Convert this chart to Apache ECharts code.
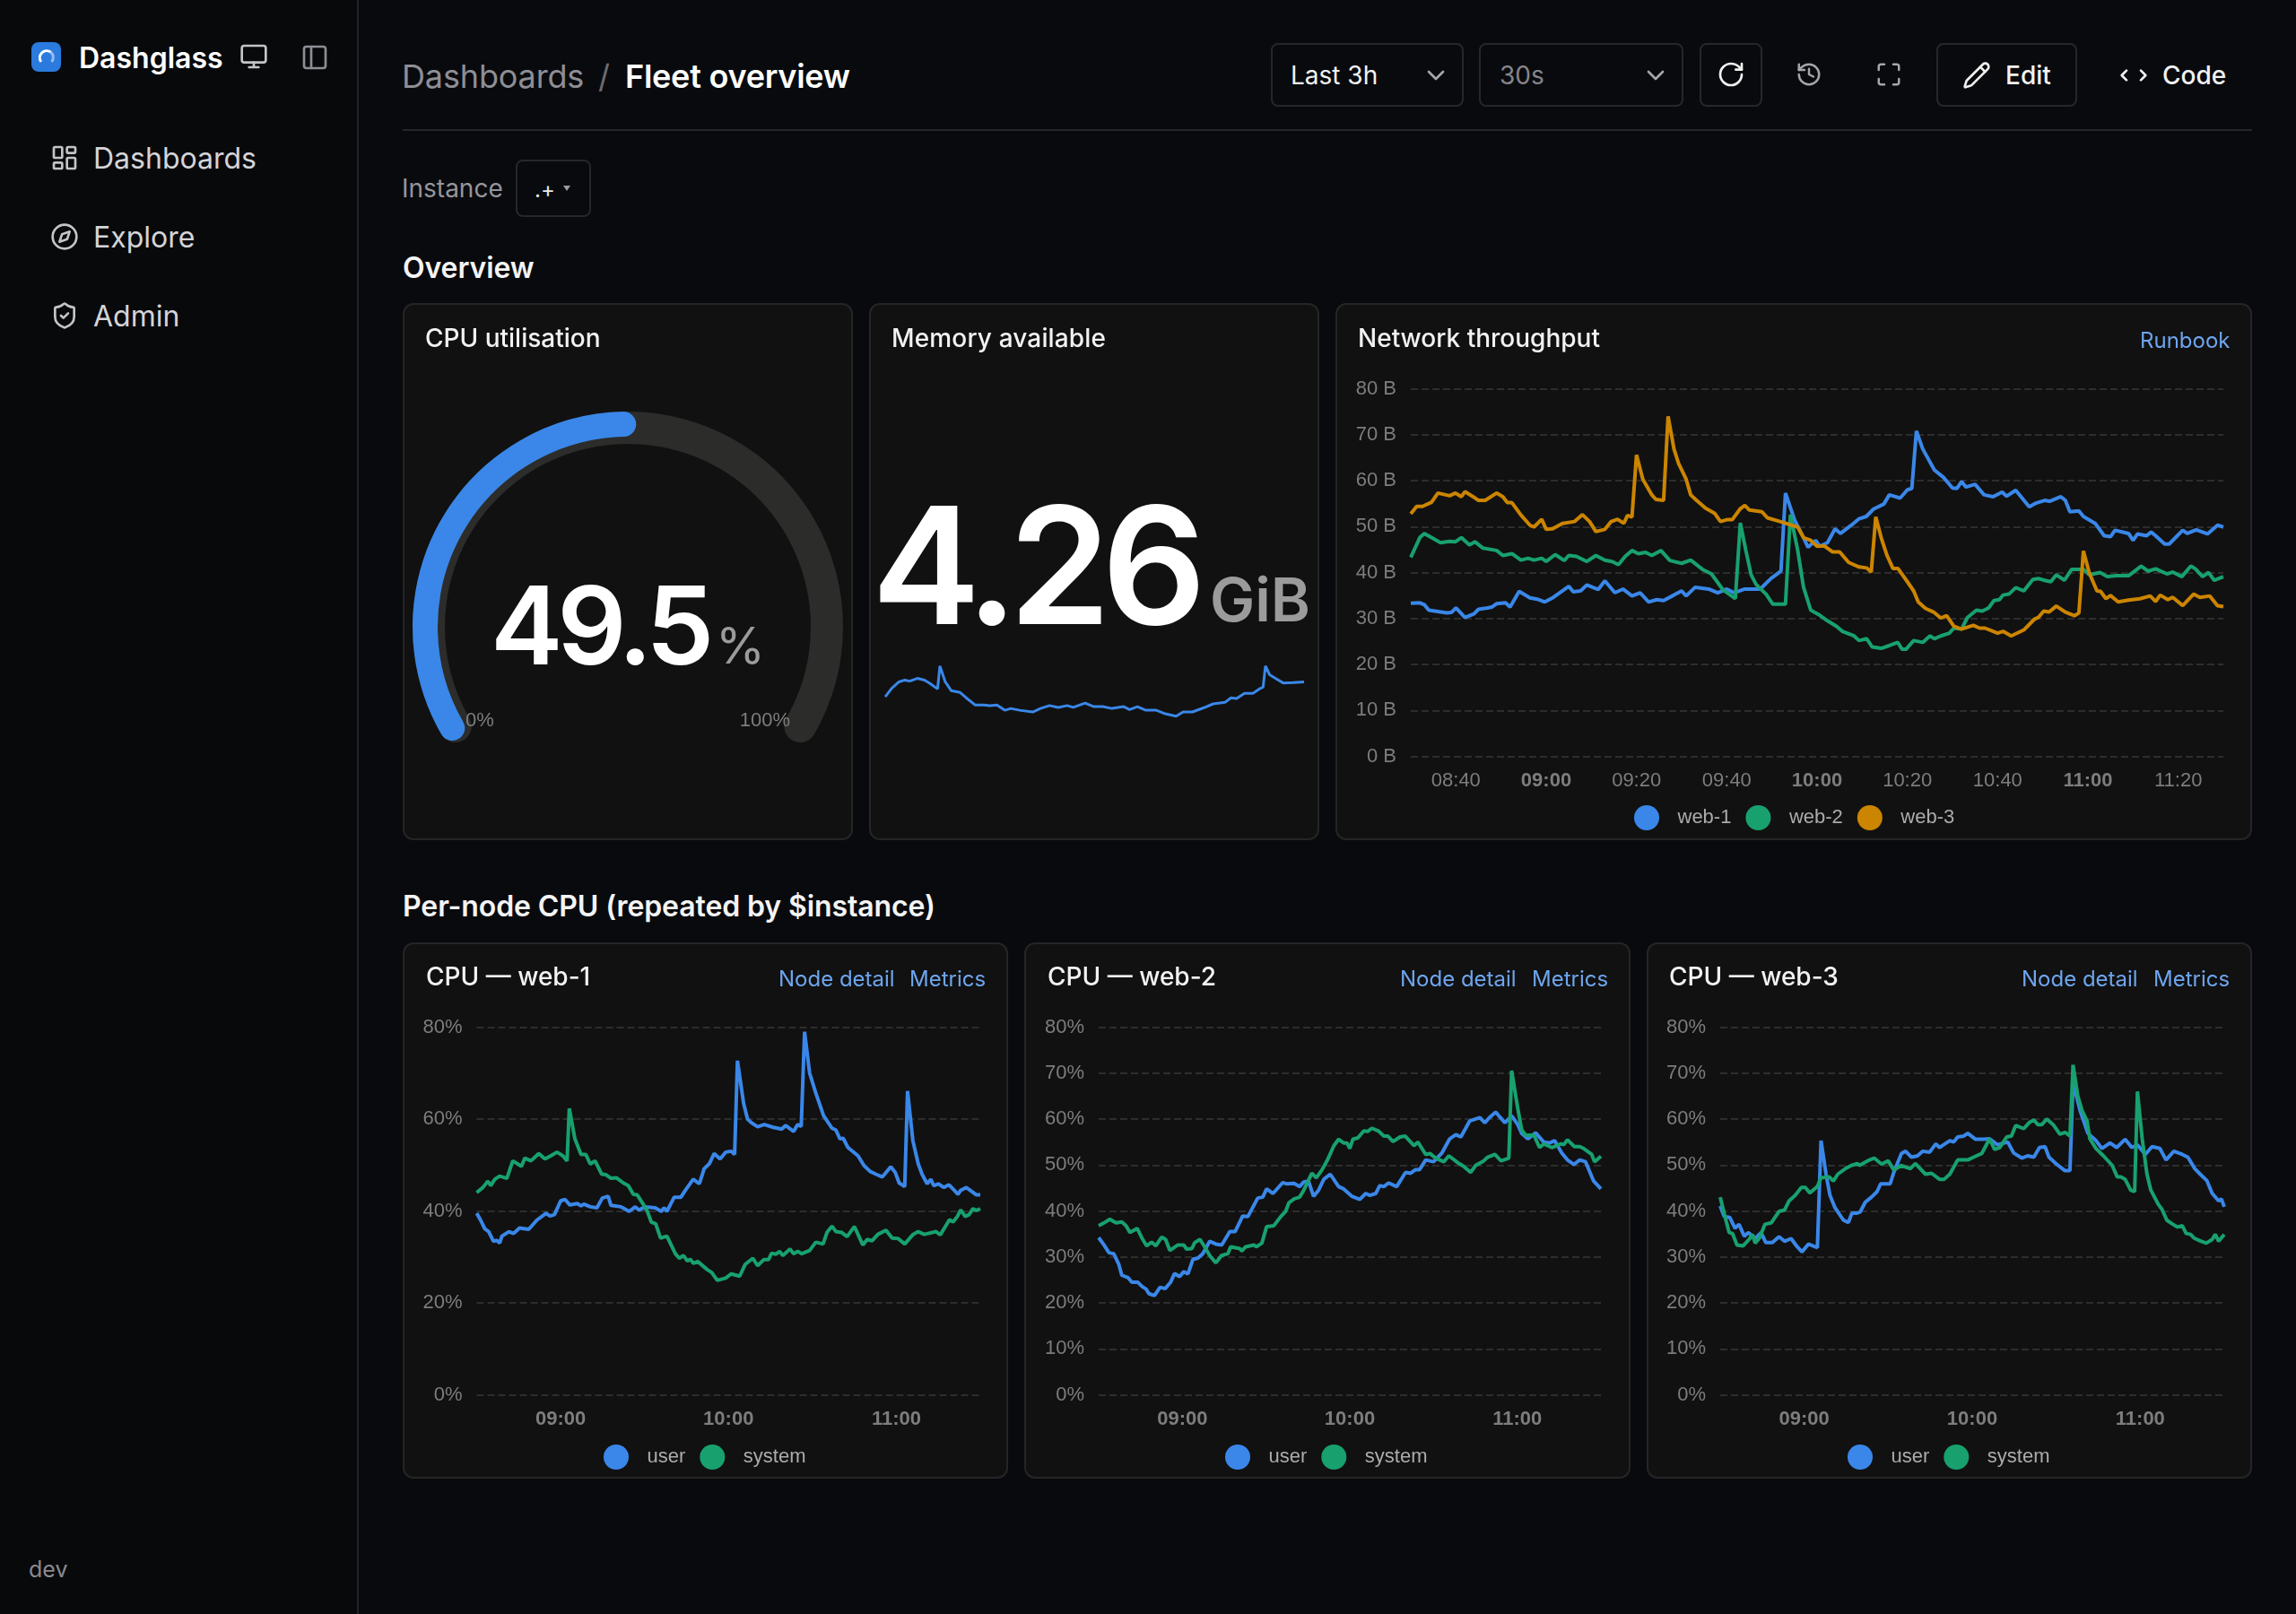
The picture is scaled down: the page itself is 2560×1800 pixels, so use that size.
<!DOCTYPE html>
<html lang="en">
<head>
<meta charset="utf-8">
<title>Dashglass - Fleet overview</title>
<script src="https://cdn.jsdelivr.net/npm/echarts@6/dist/echarts.min.js"></script>
<style>
    html, body { margin: 0; padding: 0; width: 2560px; height: 1800px; background: #090a0d; overflow: hidden; font-family: Inter, sans-serif; color: #fff; }
    .abs { position: absolute; white-space: nowrap; }
    .mid { transform: translateY(-50%); }
    .sidebar { position: absolute; left: 0; top: 0; width: 398px; height: 1800px; background: #08090b; border-right: 2px solid #222327; }
    .panel { position: absolute; box-sizing: border-box; background: #111111; border: 2px solid #252525; border-radius: 12px; }
    .box { position: absolute; box-sizing: border-box; border: 2px solid #26272b; border-radius: 8px; }
    .chart { position: absolute; }
    .ptitle { font-size: 28px; font-weight: 500; color: #f2f2f2; }
    .link { font-size: 24px; color: #6ea5ee; }
    .nav { font-size: 32px; color: #d4d4d8; }
    .h2 { font-size: 32px; font-weight: 600; color: #f4f4f5; letter-spacing: -0.1px; }
    svg.ic { position: absolute; fill: none; stroke: currentColor; stroke-width: 2; stroke-linecap: round; stroke-linejoin: round; }
</style>
</head>
<body>

<div class="sidebar"></div>
<svg class="abs" style="left:35px;top:47px" width="33" height="33" viewBox="0 0 33 33">
    <rect width="33" height="33" rx="8" fill="#2b7ade"/>
    <path d="M10.8 22 A7.8 7.8 0 0 1 21.5 11" fill="none" stroke="#fff" stroke-width="3"/>
    <path d="M21.5 11 A7.8 7.8 0 0 1 22.5 22" fill="none" stroke="#fff" stroke-opacity="0.5" stroke-width="3"/>
</svg>
<div class="abs mid" style="left:88px;top:64px;font-size:32px;font-weight:600">Dashglass</div>
<svg class="ic" viewBox="0 0 24 24" style="left:267px;top:47px;width:32px;height:32px;color:#c4c4c8"><rect x="2" y="3" width="20" height="14" rx="2"/><path d="M8 21h8M12 17v4"/></svg>
<svg class="ic" viewBox="0 0 24 24" style="left:335px;top:48px;width:32px;height:32px;color:#8d8d93"><rect x="3" y="3" width="18" height="18" rx="2"/><path d="M9 3v18"/></svg>

<svg class="ic" viewBox="0 0 24 24" style="left:56px;top:160px;width:32px;height:32px;color:#c4c4c8"><rect x="3" y="3" width="7" height="9" rx="1"/><rect x="14" y="3" width="7" height="5" rx="1"/><rect x="14" y="12" width="7" height="9" rx="1"/><rect x="3" y="16" width="7" height="5" rx="1"/></svg>
<div class="abs mid nav" style="left:104px;top:176px">Dashboards</div>
<svg class="ic" viewBox="0 0 24 24" style="left:56px;top:248px;width:32px;height:32px;color:#c4c4c8"><circle cx="12" cy="12" r="10"/><path d="M16.24 7.76 14.12 14.12 7.76 16.24 9.88 9.88z"/></svg>
<div class="abs mid nav" style="left:104px;top:264px">Explore</div>
<svg class="ic" viewBox="0 0 24 24" style="left:56px;top:336px;width:32px;height:32px;color:#c4c4c8"><path d="M20 13c0 5-3.5 7.5-7.66 8.95a1 1 0 0 1-.67-.01C7.5 20.5 4 18 4 13V6a1 1 0 0 1 1-1c2 0 4.5-1.2 6.24-2.72a1.17 1.17 0 0 1 1.52 0C14.51 3.81 17 5 19 5a1 1 0 0 1 1 1z"/><path d="m9 12 2 2 4-4"/></svg>
<div class="abs mid nav" style="left:104px;top:352px">Admin</div>
<div class="abs mid" style="left:32px;top:1750px;font-size:25px;color:#8a8a90">dev</div>

<div class="abs mid" style="left:448px;top:85px;font-size:36px;color:#8e8e95;letter-spacing:-0.15px">Dashboards</div>
<div class="abs mid" style="left:667px;top:85px;font-size:36px;color:#6c6c72">/</div>
<div class="abs mid" style="left:697px;top:85px;font-size:36px;font-weight:600;letter-spacing:-0.25px">Fleet overview</div>

<div class="box" style="left:1417px;top:48px;width:215px;height:71px"></div>
<div class="abs mid" style="left:1439px;top:84px;font-size:28px;color:#f2f2f2">Last 3h</div>
<svg class="ic" viewBox="0 0 24 24" style="left:1585px;top:68px;width:32px;height:32px;color:#a5a5aa"><path d="m6 9 6 6 6-6"/></svg>
<div class="box" style="left:1649px;top:48px;width:228px;height:71px"></div>
<div class="abs mid" style="left:1672px;top:84px;font-size:28px;color:#85858b">30s</div>
<svg class="ic" viewBox="0 0 24 24" style="left:1830px;top:68px;width:32px;height:32px;color:#a5a5aa"><path d="m6 9 6 6 6-6"/></svg>
<div class="box" style="left:1895px;top:48px;width:70px;height:71px"></div>
<svg class="ic" viewBox="0 0 24 24" style="left:1914px;top:67px;width:32px;height:32px;color:#f0f0f0"><path d="M21 12a9 9 0 1 1-9-9c2.52 0 4.93 1 6.74 2.74L21 8"/><path d="M21 3v5h-5"/></svg>
<svg class="ic" viewBox="0 0 24 24" style="left:2002px;top:68px;width:30px;height:30px;color:#a5a5aa"><path d="M3 12a9 9 0 1 0 9-9 9.75 9.75 0 0 0-6.74 2.74L3 8"/><path d="M3 3v5h5"/><path d="M12 7v5l4 2"/></svg>
<svg class="ic" viewBox="0 0 24 24" style="left:2091px;top:68px;width:30px;height:30px;color:#a5a5aa"><path d="M8 3H5a2 2 0 0 0-2 2v3"/><path d="M21 8V5a2 2 0 0 0-2-2h-3"/><path d="M3 16v3a2 2 0 0 0 2 2h3"/><path d="M16 21h3a2 2 0 0 0 2-2v-3"/></svg>
<div class="box" style="left:2159px;top:48px;width:157px;height:71px"></div>
<svg class="ic" viewBox="0 0 24 24" style="left:2188px;top:68px;width:32px;height:32px;color:#f0f0f0"><path d="M21.174 6.812a1 1 0 0 0-3.986-3.987L3.842 16.174a2 2 0 0 0-.5.83l-1.321 4.352a.5.5 0 0 0 .623.622l4.353-1.32a2 2 0 0 0 .83-.497z"/><path d="m15 5 4 4"/></svg>
<div class="abs mid" style="left:2236px;top:84px;font-size:28px;font-weight:500;color:#f2f2f2">Edit</div>
<svg class="ic" viewBox="0 0 24 24" style="left:2363px;top:68px;width:32px;height:32px;color:#f0f0f0"><path d="m18 16 4-4-4-4"/><path d="m6 8-4 4 4 4"/></svg>
<div class="abs mid" style="left:2411px;top:84px;font-size:28px;font-weight:500;color:#f2f2f2">Code</div>
<div class="abs" style="left:449px;top:144px;width:2062px;height:2px;background:#26272b"></div>

<div class="abs mid" style="left:448px;top:210px;font-size:28px;color:#95959c">Instance</div>
<div class="box" style="left:575px;top:178px;width:84px;height:64px"></div>
<div class="abs mid" style="left:596px;top:211px;font-size:24px;color:#e8e8e8">.+</div>
<div class="abs" style="left:628px;top:207px;width:0;height:0;border-left:4px solid transparent;border-right:4px solid transparent;border-top:6px solid #9a9a9a"></div>

<div class="abs mid h2" style="left:449px;top:298px">Overview</div>
<div class="abs mid h2" style="left:449px;top:1010px">Per-node CPU (repeated by $instance)</div>

<div class="panel" style="left:449px;top:338px;width:502px;height:599px"></div>
<div class="panel" style="left:969px;top:338px;width:502px;height:599px"></div>
<div class="panel" style="left:1489px;top:338px;width:1022px;height:599px"></div>
<div class="panel" style="left:449px;top:1051px;width:675px;height:598px"></div>
<div class="panel" style="left:1142px;top:1051px;width:676px;height:598px"></div>
<div class="panel" style="left:1836px;top:1051px;width:675px;height:598px"></div>

<div class="chart" id="gauge" style="left:449px;top:338px;width:502px;height:599px"></div>
<div class="chart" id="spark" style="left:969px;top:338px;width:502px;height:599px"></div>
<div class="chart" id="net" style="left:1489px;top:338px;width:1022px;height:599px"></div>
<div class="chart" id="cpu1" style="left:449px;top:1051px;width:675px;height:598px"></div>
<div class="chart" id="cpu2" style="left:1142px;top:1051px;width:676px;height:598px"></div>
<div class="chart" id="cpu3" style="left:1836px;top:1051px;width:675px;height:598px"></div>

<div class="abs mid ptitle" style="left:474px;top:377px">CPU utilisation</div>
<div class="abs mid ptitle" style="left:994px;top:377px;letter-spacing:0.15px">Memory available</div>
<div class="abs mid ptitle" style="left:1514px;top:377px">Network throughput</div>
<div class="abs mid link" style="left:2386px;top:379px">Runbook</div>

<div class="abs" id="cpuValue" style="left:547px;top:637px;font-size:121px;line-height:121px;font-weight:600;letter-spacing:-6.3px"></div>
<div class="abs" style="left:798px;top:692px;font-size:56px;line-height:56px;color:#9b9b9b">%</div>
<div class="abs" id="memValue" style="left:972px;top:539px;font-size:182px;line-height:182px;font-weight:600;letter-spacing:-10px"></div>
<div class="abs" style="left:1349px;top:635px;font-size:67px;line-height:68px;font-weight:600;color:#9b9b9b">GiB</div>

<div class="abs mid ptitle" style="left:475px;top:1089px">CPU — web-1</div>
<div class="abs mid link" style="left:868px;top:1091px">Node detail</div>
<div class="abs mid link" style="left:1014px;top:1091px">Metrics</div>
<div class="abs mid ptitle" style="left:1168px;top:1089px">CPU — web-2</div>
<div class="abs mid link" style="left:1561px;top:1091px">Node detail</div>
<div class="abs mid link" style="left:1708px;top:1091px">Metrics</div>
<div class="abs mid ptitle" style="left:1861px;top:1089px">CPU — web-3</div>
<div class="abs mid link" style="left:2254px;top:1091px">Node detail</div>
<div class="abs mid link" style="left:2401px;top:1091px">Metrics</div>

<script>
    // 所有序列都是 [距 08:30 的分钟数, 数值]，从参考图读出来的
    var cpuUtil = 49.5;
    var memNow = '4.26';

    var memSeries = [[0,4.12],[2.8,4.2],[5.9,4.26],[8.4,4.277],[10.5,4.267],[13.8,4.293],[16.9,4.277],[19.4,4.243],[22.5,4.193],[23.5,4.41],[25.8,4.26],[28.4,4.177],[32.2,4.16],[34.8,4.11],[38.6,4.043],[42.4,4.043],[45,4.037],[48,4.043],[51.4,3.993],[54,4.01],[57.8,3.993],[63.4,3.977],[66.7,4.01],[70.6,4.037],[74.4,4.02],[78.2,4.037],[80.8,4.02],[85.9,4.06],[89.7,4.027],[93.5,4.027],[97.4,4.01],[102.5,4.027],[105,4],[108.4,4.027],[112,3.993],[116.5,3.993],[120.4,3.96],[125,3.937],[128,3.977],[132,3.977],[137,4.017],[140.9,4.053],[146,4.067],[148.6,4.11],[151,4.103],[154.4,4.153],[158,4.153],[161.3,4.2],[162.4,4.21],[163.4,4.41],[165.2,4.327],[167.7,4.293],[171,4.25],[175.4,4.253],[180,4.26]];

    var netWeb1 = [[0,33.3],[2,33.4],[3,33],[4,31.8],[6,31.5],[8,31.2],[9,31.3],[10,32.3],[12,30.2],[14,31],[15,32],[17,32.3],[18,32.5],[19,33.2],[21,33.4],[22,32.5],[24,35.9],[26.4,34.5],[28,34.2],[29.7,33.6],[31.6,34.6],[35,37],[36,35.8],[37.6,36],[39,37.3],[41.5,36.3],[43,38.2],[45.2,35.6],[47,36.4],[49,34.9],[50.8,35.6],[52.7,33.6],[54.5,34.1],[56,33.9],[58.3,35.1],[60,36],[61,34.9],[63,36.8],[66,36.4],[68,35.6],[70,36.4],[71.6,35.6],[74,36.4],[77.4,36.4],[79.8,38.7],[82,40.3],[83,57.3],[85,51.5],[87,47.6],[88,45.5],[89.7,47],[90.6,45.7],[92.3,46.5],[94,49.5],[95.2,48.5],[97.6,50.3],[99.3,51.7],[100.9,52.2],[102.5,53.8],[104.8,54.9],[106,56.9],[108.4,56.2],[110,58],[111,58.3],[112,70.8],[113.4,66.9],[116,62.3],[118,60.7],[120,58.4],[121,58.3],[122,59.8],[123,58.6],[125,59.2],[127,56.9],[129,56.5],[131,57.5],[132,56.6],[134,57.9],[137,54.3],[138.5,55.1],[140.4,55.7],[141.5,55.5],[144,56.5],[145,55.7],[146,53.2],[148,53.4],[149,52.2],[151.6,50.7],[153.6,48],[155,47.8],[156,49.2],[159,48.5],[160,47],[161,48.4],[163,48],[164,48.8],[165,48],[167,46.2],[168,46.2],[171,49.2],[172,48.5],[174,49.3],[176.5,48.4],[178.7,50.3],[180,49.9]];
    var netWeb2 = [[0,43.3],[2,47.6],[3,48.5],[4.6,47.6],[6.6,46.5],[8.6,46.8],[9.9,46.7],[11.2,47.6],[13,46],[14.2,46.7],[16,45.3],[19,44.8],[20.4,43.7],[22.4,44.1],[24.4,42.7],[26,43.1],[27.3,42.7],[29,43.1],[30,42.4],[32,43.9],[34,42.6],[35,43.7],[36.7,43.5],[39,42.4],[41,43.7],[43,42.7],[44.6,42.4],[46,41.7],[47.5,43.5],[49,44.8],[50.4,44.1],[52,44.4],[53.4,43.7],[55.4,44.8],[57.4,42.6],[60,42],[62,42.7],[64.6,40.7],[66.6,39.7],[69.2,36.2],[71.9,34.3],[73,50.8],[74.2,44.9],[75.4,39.5],[76.5,37.4],[78.7,35.3],[80.2,33.1],[83,33.1],[84.1,52.6],[85.7,44.9],[87,36.8],[88.6,31.8],[90.3,30.9],[92.3,29.5],[94.3,28.3],[95.6,27.2],[98.2,26.2],[99.3,25.2],[101,25.6],[102.2,23.8],[104.2,23.5],[106,24.1],[107.9,24.8],[108.8,23.3],[109.7,23.3],[111.4,25.2],[113.4,24.8],[115,26.2],[116,25.6],[117.4,26.2],[119.3,26.8],[120.3,27.9],[122,27.7],[123.3,30.2],[125.3,31.8],[126.6,31.6],[128,32.3],[129.2,33.9],[130.4,34.1],[131.2,35.1],[132.5,35.3],[134,36.7],[135.8,36],[137.8,38.5],[139,38.7],[140.4,38.3],[141.8,38],[143,39.5],[144.8,38.3],[146.4,40.7],[148,40.7],[149,40.7],[150.3,39.5],[152.7,40],[154.3,39.1],[156.3,39.3],[159,39.3],[161.8,41.4],[163.3,40.3],[165,40.8],[167.5,39.7],[168.8,40.1],[170.8,39.1],[172.8,41.4],[173.8,40.8],[175.4,39.1],[176.7,40],[178,38.3],[180,39.1]];
    var netWeb3 = [[0,52.8],[1.3,54.4],[2.6,54.4],[4.6,55.3],[6,57.3],[8.6,56.7],[9.9,57.3],[11.2,56.5],[12,57.6],[13.8,56.5],[15,55.7],[16.5,55.7],[19,57.3],[20.4,56.5],[21.4,55.2],[22.4,55.2],[24.4,52.5],[26.4,50.3],[27.3,49.9],[29,51.6],[30,49.4],[31.4,49.5],[33.6,50.7],[36.3,51.1],[38,52.6],[39.6,51.1],[41,48.9],[43,49.4],[44.4,51.1],[45.8,51.6],[47.2,50.7],[48,52.4],[49,52.1],[50,65.6],[51.4,60.3],[53.4,56.9],[54.3,55.9],[56,55.7],[57,74],[58.3,66.9],[59.3,63.8],[61,60.3],[62,56.9],[63.3,55.7],[65.3,54],[67.3,52.9],[68.6,51.1],[70,51.5],[71.2,51.5],[73,53.9],[74,54.6],[75,53.6],[77.8,53.2],[79,51.9],[81.8,51.1],[85.7,49.9],[87,47.6],[88.6,47],[90,45.7],[91.6,45.8],[93.4,44.5],[95,44.5],[97,42.2],[99.3,41.2],[101,41],[102,40.1],[103,52.1],[104.2,47.6],[105.5,43.7],[106.8,40.9],[107.9,40.9],[110,38],[111.4,36],[112.4,33.6],[114,32.2],[115.8,31.4],[117.4,30.1],[118.7,30.6],[120.3,28.3],[122,27.7],[124.6,28.5],[126,27.9],[127.2,27.9],[130,26.8],[131.2,27.2],[133,26.2],[135.8,27.5],[138.2,29.9],[139,30.2],[140.2,31.6],[141.4,31.4],[143,32.7],[145,31.4],[147,30.6],[148,31.2],[149,44.7],[150.3,39.9],[152,36],[152.8,35.9],[154,34.3],[155,35],[156.7,33.6],[159,34],[161.5,34.3],[163.8,34.9],[165,33.7],[166,35.1],[167.7,34.1],[168.8,34.6],[171,32.8],[173.4,35.3],[174.8,34.6],[177,34.9],[178.7,32.8],[180,32.6]];

    var cpu1User = [[0,39.5],[1.4,38],[2.9,36.1],[4.3,35.5],[6,33.4],[7.2,33.6],[8.2,33],[9,34.5],[11.5,35.5],[13.2,35.1],[15.3,36.3],[18.6,36],[21.5,38],[24.8,39.5],[26.2,38.9],[27.8,39.2],[30,42.2],[31.6,42.5],[33.3,41.3],[36,41.6],[37.3,41.1],[38.3,41.5],[40.6,40.9],[43,40.7],[44.9,42.8],[47,43.2],[48,41.2],[51.6,40.9],[54.5,39.9],[56.7,40.9],[58,40.2],[60.2,40.9],[63.8,40.7],[66,39.9],[67,40.7],[68,39.9],[70.6,43],[73,43],[74.6,44.5],[77.4,46.9],[79.6,45.9],[81.3,49.2],[83.2,50.3],[84.9,52.5],[87,51.3],[89,52.8],[91,53],[92.2,52.3],[93.2,72.7],[95.4,63.4],[96.8,60],[98.2,59.2],[100.4,58.3],[102.8,58.8],[106,58.2],[109,57.8],[110.4,58.6],[113.3,57.3],[114.7,58.8],[116,58.4],[117.2,79],[119,70],[121.2,65.7],[124,60.7],[127,58],[128.4,57.6],[129.8,55.7],[131,55.8],[132.7,53.8],[136.3,52],[138.4,49.9],[140.6,48.6],[142.7,48],[145,47.4],[148,49.6],[149.6,48.4],[151,46.1],[153,45.3],[154,66.1],[155.9,55.3],[157.8,50.3],[159.2,48],[161,45.9],[162.3,46.9],[163.4,45.5],[165,45.9],[167,45.1],[168.8,45.7],[170.7,44.5],[172,43.6],[173,44.5],[175,45.1],[177,44.2],[178.6,43.5],[180,43.5]];
    var cpu1Sys = [[0,44],[2.2,45.1],[4,46.5],[5,45.5],[6.5,46.9],[8.2,47.6],[10.8,47.1],[12.9,50.9],[16,49.7],[17.2,51.5],[19.4,50.9],[22.2,52.5],[24.4,51.3],[26.5,52],[28.7,52.8],[30.8,52],[32.3,50.9],[33.1,62.3],[35.1,55.7],[37.3,52.3],[39,52.3],[40.6,50.2],[42.3,50.9],[44.7,48],[46.2,47.9],[48,47.1],[50,47.2],[52.4,46.1],[54.2,45.5],[56,43.6],[57.4,43.5],[59.5,41.5],[61,39.9],[62.4,37.6],[64,37.2],[65.7,34.1],[68,34.5],[71,30.7],[72.4,29.7],[73.9,30.3],[75.3,29.1],[76.3,29.5],[77.5,28.6],[79,29],[82.5,27.2],[84,26.6],[86,24.9],[89,25.4],[91,26.3],[94,25.8],[96,28.4],[98.7,29.7],[100.4,28.1],[102.6,29.4],[104.3,29.4],[105.4,30.8],[107,30.6],[108.3,31.2],[109.4,30.3],[112,31.7],[113.3,30.7],[114.7,31.2],[116.2,30.7],[119,31.4],[121.2,33.2],[123.8,32.8],[125.2,35.3],[127,36.7],[128.4,35.5],[130.5,35.3],[132.4,34.4],[135,36.6],[138,32.6],[139.6,33.8],[141.3,33.5],[143.4,34.9],[146.3,35.8],[148.5,34.1],[150.6,34],[153,32.8],[156,34.9],[157.8,35.5],[160,34.9],[164.2,35.5],[165.7,34.8],[167.4,36.5],[169,38.1],[170.3,37.6],[171.8,38.8],[173,40.2],[174.6,38.8],[176,39.2],[177.4,40.5],[178.6,40.1],[180,40.5]];

    var cpu2User = [[0,34.2],[1.9,32.6],[3.7,30.9],[5.4,30.7],[7.2,28.4],[8.3,26],[10.5,25.5],[11.9,24.5],[14,24.5],[15.5,23.6],[17,23],[18,22],[20,21.6],[22,23.4],[23.8,23.1],[25.8,24.5],[27.2,26.4],[29,25.7],[30.5,26.8],[32,26.3],[33.8,29.5],[35.5,29.7],[37.3,30.7],[39.8,33.4],[42,32.8],[44.1,32.6],[47,35.5],[48.9,35.5],[51.6,38.9],[53.5,38.8],[57,42.8],[58.8,43],[60.2,44.8],[62.5,43.8],[66,46.2],[67.2,45.9],[70,46],[72,45.3],[73.5,46.3],[75.2,46.5],[77,43.2],[78.8,44.5],[80.7,46.9],[83,48],[86,45.3],[87.8,44.8],[90.7,43.2],[93.6,42.5],[95.7,43.8],[97.2,43.4],[99.3,43.8],[100.7,45.5],[102.2,45.3],[103.9,46.1],[106.8,45.3],[110,48.4],[111.8,48.2],[113.6,49],[115,49],[117.2,51.1],[120,50.7],[123,52.6],[125.8,55.7],[128,56.6],[129.8,56.1],[133,59.6],[136.6,60.3],[138.4,59.2],[140,60.3],[142.3,61.5],[143.7,60.5],[145.6,59.2],[148,60.7],[150.2,58.8],[151.6,56.9],[153.8,55.7],[156.6,57],[159.5,55],[161.6,54.8],[163.4,55.3],[166,52.6],[168,51.1],[170.3,50.1],[172.4,51.1],[174.5,50.7],[177.4,46.5],[180,44.8]];
    var cpu2Sys = [[0,36.8],[1.9,37.4],[4,38.2],[6.2,37.4],[8.3,37.6],[9.8,36.8],[11.2,35.3],[13.8,36.2],[15.5,34.1],[17.2,32.4],[19,33.2],[20.5,32.4],[22.6,34.3],[24,33.8],[25.5,31.4],[28.4,32.6],[30.5,32.6],[31.5,31.7],[33.4,31.8],[34.4,33.1],[36.3,33.8],[38,32.2],[39.8,30.3],[42,28.7],[44,30.3],[46.3,30.7],[47.3,32.2],[50.6,31.8],[51.3,31.3],[52.7,32.2],[55.6,32.6],[56.6,32.2],[58.5,33],[60.2,36.6],[62.8,36.8],[65.3,38.8],[67,39.9],[68.2,41.8],[70,42.6],[72,43],[73.5,44.5],[76.4,48.2],[78,47.2],[80,48.9],[82,51.1],[84.3,54.2],[86,55.6],[87.8,54.8],[89,54.8],[90,53.6],[91.1,55.6],[92.9,55.9],[95,57.4],[96.4,57.3],[97.9,58],[100.3,57.4],[102.2,56.3],[103.6,56.3],[105.5,55.1],[108,56.1],[109.8,56.3],[113,54.2],[114.4,55],[117.2,52.3],[118.7,52.5],[120.8,51.5],[123.7,50.7],[125.5,52],[128.7,50.5],[130.8,49.7],[133.3,48.4],[135.1,49.9],[138,50.9],[139.4,51.7],[142,52.3],[144.2,50.9],[147,51.5],[148,70.5],[150.2,62.3],[151.6,57.7],[153,56.5],[156,56.5],[158,53.8],[159.5,54.6],[162.4,53.8],[165.7,54.6],[166.7,54.4],[168,55.5],[170.5,54],[172.4,54],[173.8,53.6],[176.7,52.3],[177.7,50.7],[180,51.9]];

    var cpu3User = [[0,41.1],[1.4,38.8],[3.4,38.6],[5.3,36.2],[6.7,37.1],[8.6,34.5],[10,35.3],[12.5,34],[14.6,35.3],[16.3,33.1],[18.6,33.1],[21,34.4],[23,33.4],[25.3,34],[27.5,32.2],[29.2,31.1],[31.5,32.8],[34.7,32],[35.2,32.2],[36,55.3],[37.8,48],[39.2,43.4],[41,40.7],[44,38],[45.8,37.5],[47,39.5],[48.6,39.5],[50,39.8],[51.8,41.9],[54,43],[56,44.2],[57.3,45.9],[60.7,45.9],[62,48.4],[64.7,52.5],[66.2,53],[68.3,51.7],[70.5,52],[72.3,53],[74.8,52.8],[77,54.6],[78.3,53.8],[79.8,54.4],[82,55.3],[83.4,55],[84.8,56.1],[87,56.3],[88.4,56.9],[91.2,55.6],[94,55.6],[96.2,55.7],[99,54.4],[102.7,55],[104.8,52.6],[107.7,51.5],[109.8,52],[112,51.7],[114,53.8],[116,54],[117.4,51.7],[119.9,50.3],[123,48.8],[124.9,48.8],[126,68],[128.5,61.9],[131.3,56.9],[134.2,55.3],[136.3,53.6],[139.2,54.8],[141.6,53.8],[144.6,55.6],[147,53.8],[149,54.4],[151.8,52.3],[154.2,54],[157,53.6],[159.2,51.1],[162,53],[165,52.3],[167,51.7],[169.5,49.2],[171.4,48],[173.8,46.6],[175.7,43.8],[178,42.2],[179,42.6],[180,40.9]];
    var cpu3Sys = [[0,43],[1.7,38.8],[3.2,35.3],[4.4,35.1],[6,32.6],[8.2,32.4],[10.3,33.8],[11.5,34.9],[12.5,33],[14,34.1],[16,37.1],[18.2,37.4],[21,39.9],[23,40.2],[24.6,42.2],[26.8,43.4],[29,45.1],[30.4,45.1],[32,43.9],[34.7,45.3],[36,47.2],[39,47.4],[40.4,46.5],[42,48],[44.7,49.2],[46.8,49.9],[49,50.3],[49.7,49.9],[53.3,51.1],[55,51.5],[57.6,50.2],[60,50.9],[62,48.9],[64.7,49.9],[67.9,49.2],[69.7,50.3],[73.3,48],[75.5,48.2],[78.3,46.9],[80,46.9],[82,48],[84.8,51.1],[88.4,51.1],[91.2,51.9],[93.4,52.5],[96.2,55.7],[98,53.4],[99.8,53.8],[102.3,56.1],[104,56.3],[105.5,58.6],[108.4,57.9],[110.3,59.2],[112,59.8],[113.4,58.8],[114.9,58.8],[116.6,60],[118.9,58.8],[121.3,56.7],[123.2,57.1],[124.9,56.3],[126,71.8],[127.7,65],[129.2,61.9],[131,59.6],[132,55.7],[134.2,53.6],[137,51.9],[140,49.9],[141.8,47.4],[143.1,47.4],[144.6,46.9],[146.6,44.5],[148,44.2],[149,66],[150.7,55.7],[152.4,48],[153.8,44.5],[156.4,41.5],[157.8,40.3],[159.5,38],[161.4,37.2],[163.3,36.5],[165,36.8],[166.4,35.1],[168,34.9],[169.2,34.1],[171.4,33.5],[173.6,33],[175.7,33.8],[176.8,34.9],[178,33.4],[180,34.9]];

    var netTicks = { step: 10, max: 80, unit: ' B' };
    var cpuColors = ['#3a87e9', '#18a16f'];
    var netColors = ['#3a87e9', '#18a16f', '#cc8500'];
    var t0 = new Date(2024, 2, 5, 8, 30).getTime();
    var t1 = new Date(2024, 2, 5, 11, 30).getTime();

    document.getElementById('cpuValue').textContent = cpuUtil.toFixed(1);
    document.getElementById('memValue').textContent = memNow;

    function toTime(list) {
        return list.map(function (p) {
            return [t0 + p[0] * 60000, p[1]];
        });
    }

    function lineSeries(name, list, color, width) {
        return {
            name: name,
            type: 'line',
            showSymbol: false,
            lineStyle: { width: width || 4, color: color },
            itemStyle: { color: color },
            data: toTime(list)
        };
    }

    function drawLines(id, grid, legendLeft, tickMs, labelWeight, step, max, unit, series) {
        var chart = echarts.init(document.getElementById(id));
        chart.setOption({
            animation: false,
            textStyle: { fontFamily: '"Liberation Sans", sans-serif' },
            grid: grid,
            legend: {
                left: legendLeft,
                top: 555,
                icon: 'circle',
                itemWidth: 59,
                itemHeight: 28,
                itemGap: 16,
                textStyle: { color: '#ababab', fontSize: 22 }
            },
            xAxis: {
                type: 'time',
                min: t0,
                max: t1,
                minInterval: tickMs,
                maxInterval: tickMs,
                axisLine: { show: false },
                axisTick: { show: false },
                splitLine: { show: false },
                axisLabel: { color: '#7d7d7d', fontSize: 22, margin: 16, fontWeight: labelWeight }
            },
            yAxis: {
                type: 'value',
                min: 0,
                max: max,
                interval: step,
                axisLabel: { color: '#7d7d7d', fontSize: 22, margin: 16, formatter: '{value}' + unit },
                splitLine: { lineStyle: { color: '#2d2d2d', width: 2, type: 'dashed' } }
            },
            series: series
        });
    }

    // 仪表盘
    echarts.init(document.getElementById('gauge')).setOption({
        animation: false,
        textStyle: { fontFamily: '"Liberation Sans", sans-serif' },
        series: [{
            type: 'gauge',
            center: [251, 361],
            radius: 240,
            startAngle: 210,
            endAngle: -30,
            min: 0,
            max: 100,
            splitNumber: 1,
            pointer: { show: false },
            progress: { show: true, width: 28, roundCap: true, itemStyle: { color: '#3a87e9' } },
            axisLine: { roundCap: true, lineStyle: { width: 36, color: [[1, '#2c2c2b']] } },
            axisTick: { show: false },
            splitLine: { show: false },
            axisLabel: {
                distance: 11,
                color: '#7d7d7d',
                fontSize: 22,
                formatter: function (v) { return v + '%'; }
            },
            title: { show: false },
            detail: { show: false },
            data: [{ value: cpuUtil }]
        }]
    });

    // 内存迷你折线
    echarts.init(document.getElementById('spark')).setOption({
        animation: false,
        grid: { left: 18, right: 17, top: 394, height: 83 },
        xAxis: { type: 'time', min: t0, max: t1, show: false },
        yAxis: { type: 'value', min: 3.8, max: 4.5, show: false },
        series: [lineSeries('mem', memSeries, '#3a87e9', 3)]
    });

    drawLines('net', { left: 84, right: 32, top: 95.5, height: 410 }, 328, 25 * 60000, 'normal', netTicks.step, netTicks.max, netTicks.unit, [
        lineSeries('web-1', netWeb1, netColors[0]),
        lineSeries('web-2', netWeb2, netColors[1]),
        lineSeries('web-3', netWeb3, netColors[2])
    ]);
    drawLines('cpu1', { left: 82.5, right: 31, top: 94.5, height: 410 }, 219, 3600000, 'bold', 20, 80, '%', [
        lineSeries('user', cpu1User, cpuColors[0]),
        lineSeries('system', cpu1Sys, cpuColors[1])
    ]);
    drawLines('cpu2', { left: 83, right: 33, top: 94.5, height: 410 }, 219, 3600000, 'bold', 10, 80, '%', [
        lineSeries('user', cpu2User, cpuColors[0]),
        lineSeries('system', cpu2Sys, cpuColors[1])
    ]);
    drawLines('cpu3', { left: 82, right: 31, top: 94.5, height: 410 }, 219, 3600000, 'bold', 10, 80, '%', [
        lineSeries('user', cpu3User, cpuColors[0]),
        lineSeries('system', cpu3Sys, cpuColors[1])
    ]);
</script>
</body>
</html>
